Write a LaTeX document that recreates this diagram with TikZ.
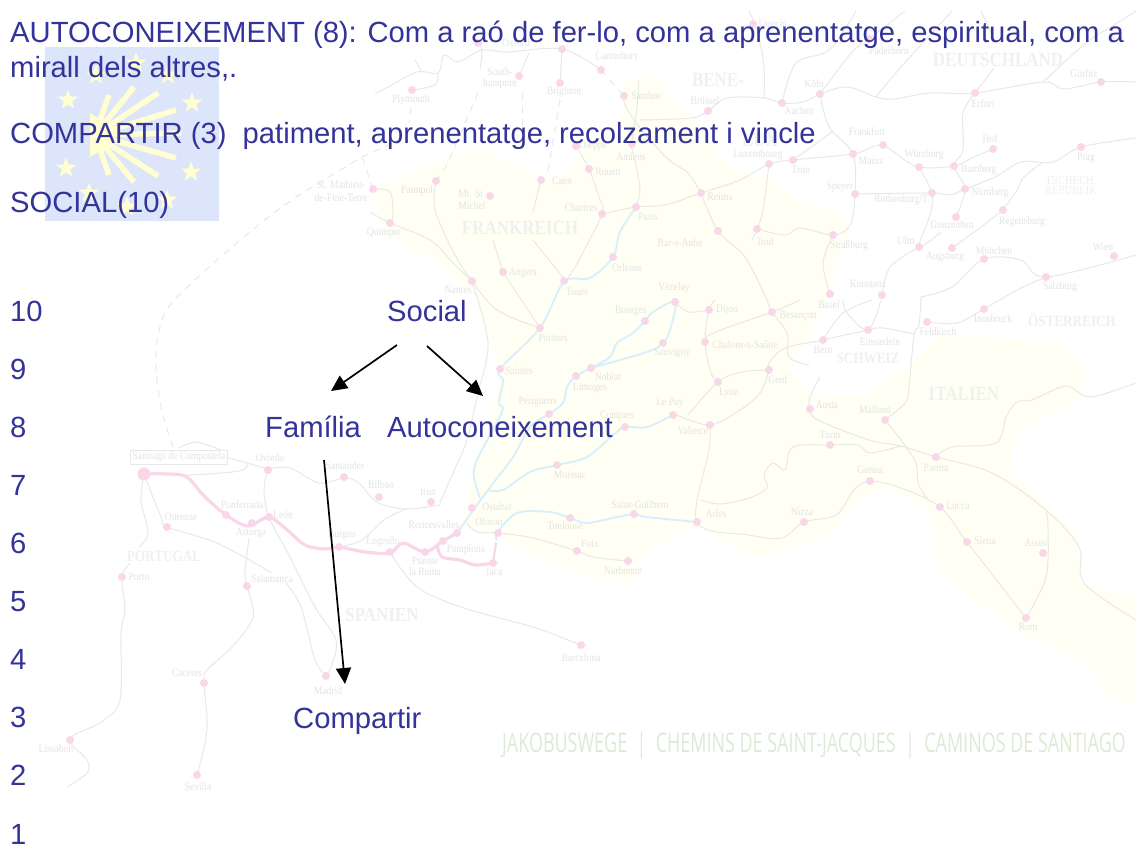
\documentclass[tikz,border=0pt]{standalone}
\usepackage{fontspec}
\setmainfont{Liberation Sans}
\newfontfamily\mapf[FakeStretch=0.85]{Liberation Serif}
\newfontfamily\condf[FakeStretch=0.665]{Open Sans}
\usetikzlibrary{arrows.meta,shapes.geometric}
\definecolor{txtblue}{HTML}{333399}
\definecolor{logobg}{HTML}{DDE5FB}
\definecolor{logoyl}{HTML}{FFFFD2}
\definecolor{landyl}{HTML}{FFFFF4}
\definecolor{railgr}{HTML}{E8E8E8}
\definecolor{dotpk}{HTML}{FAD7E8}
\definecolor{rivbl}{HTML}{D8F0FC}
\definecolor{labgr}{HTML}{E4E4E4}
\definecolor{ctrygr}{HTML}{F0F0F0}
\definecolor{jakgr}{HTML}{DDEBD6}
\tikzset{
  rail/.style={draw=railgr,line width=1pt,line join=round},
  dashrail/.style={draw=railgr,line width=1pt,dash pattern=on 7pt off 6pt},
  river/.style={draw=rivbl,line width=1.9pt,line join=round},
  pilgrim/.style={draw=dotpk,line width=3.2pt,line cap=round,line join=round},
  maplab/.style={text=labgr,inner sep=0pt,font=\mapf\fontsize{11.3}{12}\selectfont,align=center},
  ctry/.style={text=ctrygr,inner sep=0pt,font=\mapf\bfseries\fontsize{20}{20}\selectfont,align=center},
  ctrysmall/.style={text=ctrygr,inner sep=0pt,font=\mapf\bfseries\fontsize{15.5}{16}\selectfont,align=center},
  maintext/.style={text=txtblue,inner sep=0pt,anchor=base west,font=\fontsize{29.2}{32}\selectfont},
  logostar/.style={star,star points=5,star point ratio=2.4,fill=logoyl,inner sep=0pt,minimum size=21pt},
  arr/.style={draw=black,line width=1.7pt,-{Triangle[length=16pt,width=15pt]}},
}
\newcommand{\rt}[1]{\path[rail] plot[smooth,tension=0.55] coordinates {#1};}
\newcommand{\rv}[1]{\path[river] plot[smooth,tension=0.55] coordinates {#1};}
\begin{document}
\begin{tikzpicture}[x=1pt,y=-1pt]
\useasboundingbox (0,0) rectangle (1136,846);
\fill[white] (0,0) rectangle (1136,846);
% land
\fill[landyl] plot[smooth,tension=0.3] coordinates {(622,95)(626,80)(660,77)(668,100)(690,115)(730,165)(770,178)(800,200)(840,215)(850,228)(836,262)(830,296)(800,350)(790,368)(812,392)(860,395)(900,372)(940,335)(1000,338)(1060,345)(1085,370)(1078,400)(1017,433)(1014,473)(1075,533)(1082,583)(1136,600)(1136,700)(1104,693)(1090,667)(1021,633)(966,593)(938,563)(930,513)(890,490)(860,500)(830,535)(780,553)(745,555)(700,527)(640,555)(632,582)(600,578)(560,568)(505,540)(465,525)(470,480)(490,420)(500,370)(480,310)(470,290)(430,260)(385,232)(372,190)(430,165)(480,150)(530,172)(560,178)(582,150)(620,130)} -- cycle;
% logo
\fill[logobg] (45,47) rectangle (219,221);
\foreach \sx/\sy [count=\i] in {68/100,192/103,191/172,66/168,96/75,168/75,136/63,89/193,127/207,167/200}
  \node[logostar] (logostar\i) at (\sx,\sy) {};
\fill[logoyl] (90,113) -- (108,124) -- (108,146) -- (90,157) -- cycle;
\foreach \ex/\ey in {109/95,134/87,158/93,176/110,181/133,176/158,158/176,134/182,109/175}
  \draw[logoyl,line width=5.5pt] (95,135) -- (\ex,\ey);
% rivers
\rv{(636,207)(620,232)(613,257)(590,278)(564,282)(540,328)(500,369)(503,380)(499,403)(502,412)(477,460)(474,477)(480,498)}
\rv{(457,533)(488,490)(513,457)(530,427)(549,414)(563,403)(567,387)(576,376)(591,368)(610,357)(617,343)(633,333)(645,321)(653,312)(675,302)(670,330)(663,343)(647,352)(591,368)}
\rv{(488,490)(503,490)(530,472)(557,465)(587,457)(613,435)(625,427)(647,427)(673,415)}
\rv{(497,540)(497,533)(517,513)(550,512)(570,518)(587,523)(617,517)(634,514)(647,517)(697,522)}
% rails: Britain and north
\rt{(375,94)(388,87)(417,72)(438,73)(444,55)(458,62)(482,50)(507,52)(562,49)(601,70)}
\rt{(412,90)(435,85)(438,73)}\rt{(415,60)(422,72)}\rt{(519,76)(529,53)}\rt{(560,83)(562,49)}\rt{(478,43)(482,50)(480,70)}
\draw[dashrail] (478,93) -- (446,167) -- (436,181);
\draw[dashrail] (522,93) -- (522,130);
\draw[dashrail] (411,107) -- (409,123);
\draw[dashrail] (560,100) -- (547,177);
\draw[dashrail] (601,70) -- (624,96);
\draw[dashrail] (173,447) .. controls (150,385) and (150,325) .. (174,300) .. controls (210,265) and (260,220) .. (304,192) -- (362,157) -- (399,140);
\draw[dashrail] (373,189) -- (362,157);
% France west
\rt{(373,189)(390,192)(393,215)(390,223)}
\rt{(370,212)(390,223)(430,240)(455,265)(472,281)}
\rt{(436,181)(435,210)(455,255)(472,281)}
\rt{(472,282)(488,343)(477,397)(467,440)(453,473)(440,503)}
\rt{(472,281)(497,310)(540,328)}
\rt{(503,272)(493,240)}\rt{(503,272)(540,328)}
\rt{(541,180)(533,212)}\rt{(533,240)(565,280)}
\rt{(602,214)(636,207)(665,205)(701,193)(740,180)(769,164)(793,160)(853,154)(869,148)(883,145)(895,153)(919,167)(954,166)(974,157)(993,149)}
\rt{(576,146)(589,169)(600,200)(602,214)(579,260)(566,281)}
\rt{(636,207)(640,190)(635,160)(632,144)(637,107)(639,80)}
\rt{(701,193)(688,173)(669,160)(644,133)(626,107)(624,96)}
\rt{(701,193)(718,231)(745,257)(767,300)}
\rt{(769,164)(763,210)(757,229)(752,240)}
\rt{(757,229)(785,235)(800,228)(833,235)(850,225)(855,194)(853,154)(829,127)(820,94)}
\rt{(833,235)(823,263)(830,294)}
\rt{(793,160)(832,132)}
\rt{(640,120)(691,118)(708,111)(727,98)(764,98)(782,103)(803,102)(820,94)(847,87)(876,97)(894,99)(930,93)(975,93)(1043,82)(1064,89)(1101,82)(1136,82)}
\rt{(1043,82)(1086,43)(1111,27)(1136,11)}
\rt{(820,94)(838,70)(854,50)(869,39)(905,11)}
\rt{(782,103)(796,63)(829,50)(856,11)}
\rt{(876,97)(901,67)(952,11)}
\rt{(764,98)(764,67)(758,33)(749,11)}
\rt{(981,11)(996,43)}\rt{(975,93)(994,68)}
\rt{(975,93)(963,113)(963,150)(954,166)(965,189)(956,217)}
\rt{(855,194)(932,193)(950,195)(965,189)(995,177)(1021,162)(1053,162)(1081,147)(1136,138)}
\rt{(1003,210)(1017,190)(1024,177)(1043,162)}
\rt{(1003,210)(977,230)(952,248)}
\rt{(919,167)(932,193)(930,215)(919,247)(941,232)}
\rt{(919,247)(890,267)(882,295)}
\rt{(921,297)(952,287)(984,259)(1021,260)(1046,277)(1136,255)}
\rt{(921,297)(919,325)(914,335)(909,387)(905,403)(885,420)}
\rt{(1046,277)(1017,290)(984,309)(957,323)(927,322)}
% Alps, Italy
\rt{(769,370)(769,363)(785,348)(823,340)(868,330)(883,328)(914,334)}
\rt{(769,370)(760,393)(740,410)(710,425)(677,415)}
\rt{(769,370)(742,372)(718,382)(688,415)}
\rt{(718,382)(711,373)(705,342)(709,310)(715,300)}
\rt{(705,342)(713,333)(772,312)(800,300)}
\rt{(675,303)(689,312)(709,310)}
\rt{(767,300)(772,312)(787,333)(789,357)(809,365)}
\rt{(843,300)(847,313)(868,330)(881,300)}
\rt{(872,300)(843,313)(823,340)}
\rt{(820,377)(810,397)(810,409)(818,420)(869,440)(901,446)(936,457)(992,473)(1046,510)(1079,547)(1084,583)(1136,620)}
\rt{(701,500)(720,504)(749,498)(767,488)(764,475)(773,463)(785,470)(793,447)(830,445)(858,445)(870,453)(901,446)}
\rt{(885,420)(901,440)(916,463)(918,483)(928,500)}
\rt{(710,425)(709,450)(697,522)(749,535)(782,538)(804,522)(836,515)(854,490)(870,481)(901,488)(940,507)(967,542)(1026,618)}
\rt{(936,457)(952,447)(996,443)(1006,417)(1017,402)(1032,400)(1066,386)(1090,397)(1136,383)}
\rt{(1026,618)(1046,577)(1048,527)(1046,510)}
% Pyrenees, Spain
\rt{(467,523)(477,532)(498,533)(533,538)(577,551)(593,557)(628,561)}
\rt{(268,469)(290,468)(319,483)(344,478)(359,483)(377,502)(406,509)(440,505)}
\rt{(340,547)(362,540)(384,520)(406,509)}
\rt{(179,448)(196,442)(221,450)}
\rt{(226,457)(268,469)}
\rt{(144,474)(187,475)(239,471)(248,463)}
\rt{(268,469)(264,490)(269,517)(290,557)(315,607)(336,640)(331,667)(326,675)}
\rt{(144,474)(161,517)(167,527)(217,543)(272,573)}
\rt{(286,583)(301,607)(315,660)(326,675)}
\rt{(144,474)(141,500)(148,533)(139,547)}
\rt{(130,563)(122,577)(125,610)(121,633)(120,700)(101,722)(70,739)(87,760)(87,773)(67,787)}
\rt{(249,538)(245,573)(247,586)(253,617)(232,647)(207,670)(204,683)(207,730)(197,776)}
\rt{(390,552)(417,587)(464,608)(533,627)(568,640)(581,645)}
% pilgrim way
\path[pilgrim] plot[smooth,tension=0.5] coordinates {(144,474)(170,474)(187,477)(205,497)(226,515)(243,525)(252,525)(269,517)(285,528)(305,545)(325,549)(339,547)(365,552)(390,553)(403,543)(425,552)(443,541)(457,533)};
\path[pilgrim] plot[smooth,tension=0.5] coordinates {(437,545)(442,557)(460,560)(475,565)(493,563)};
\draw[pilgrim,line width=2pt] (493,563) -- (496,543);
% city dots
\foreach \dx/\dy in {268/470,344/477,379/497,431/502,226/515,252/523,269/517,339/547,390/552,425/552,443/541,457/533,493/563,498/533,472/508,167/527,122/577,247/586,326/676,204/683,197/775,70/740,581/645,412/90,478/43,519/76,560/83,562/49,601/70,373/189,436/181,490/196,541/180,390/223,472/281,503/272,564/281,540/328,500/369,549/414,625/427,557/465,576/376,591/368,645/321,663/343,675/302,673/415,570/518,634/514,577/551,628/561,697/522,753/24,624/96,708/111,782/103,820/94,869/39,975/93,1101/82,576/146,632/144,589/169,602/214,636/207,701/193,613/257,718/231,757/229,833/235,769/164,793/160,853/154,883/145,919/167,954/166,993/149,1081/147,965/189,932/193,855/194,956/217,1003/210,919/247,952/248,984/259,1046/277,1114/256,882/295,830/294,709/310,772/312,823/340,868/330,927/322,984/309,705/342,718/382,769/370,710/425,810/409,885/420,830/445,936/457,870/481,804/522,940/507,967/542,1043/553,1026/618}
  \fill[dotpk] (\dx,\dy) circle (4pt);
\fill[dotpk] (144,474) circle (6.5pt);
% city labels
\foreach \lx/\ly/\lt [count=\i] in {411/100/Plymouth,500/72/South-,500/84/hampton,564/92/Brighton,516/43/Oxford,617/57/Canterbury,646/96/Sambre,593/146/Dieppe,631/157/Amiens,608/172/Rouen,581/208/Chartres,648/217/Paris,720/197/Reims,627/268/Orléans,680/243/Bar-s-Aube,765/242/Toul,849/246/Straßburg,758/155/Luxembourg,801/170/Trier,871/161/Mainz,867/132/Frankfurt,924/155/Würzburg,979/170/Bamberg,990/139/Hof,1086/158/Prag,990/193/Nürnberg,{902}/200/{Rothenburg/T.},840/187/Speyer,952/225/Gunzenhsn,1022/222/Regensburg,906/241/Ulm,945/257/Augsburg,994/251/München,1103/247/Wien,1060/287/Salzburg,868/284/Konstanz,829/305/Basel,798/316/Besançon,727/310/Dijon,631/311/Bourges,672/353/Sauvigny,674/288/Vézelay,608/377/Noblat,590/388/Limoges,670/403/Le Puy,617/416/Conques,693/431/Valence,729/393/Lyon,778/380/Genf,823/350/Bern,745/345/Chalons-s-Saône,880/342/Einsiedeln,938/332/Feldkirch,993/319/Innsbruck,827/405/Aosta,875/410/Mailand,830/435/Turin,936/468/Parma,870/470/Genua,802/512/Nizza,958/506/Lucca,985/541/Siena,1036/543/Assisi,1028/627/Rom,716/514/Arles,640/505/Saint-Guilhem,590/544/Foix,623/571/Narbonne,565/526/Toulouse,570/475/Moissac,538/402/Périgueux,553/338/Poitiers,519/371/Saintes,458/290/Nantes,577/292/Tours,523/273/Angers,417/191/Paimpol,472/194/Mt. St.,472/206/Michel,341/185/St. Mathieu-,341/198/de-Fine-Terre,562/181/Caen,384/233/Quimper,773/24/Utrecht,889/51/Paderborn,1084/74/Görlitz,705/101/Brüssel,799/111/Aachen,814/84/Köln,983/104/Erfurt,270/458/Oviedo,345/466/Santander,381/485/Bilbao,428/492/Irun,242/505/Ponferrada,251/533/Astorga,283/515/León,342/535/Burgos,383/542/Logroño,434/525/Roncesvalles,425/561/Puente,425/572/la Reina,466/550/Pamplona,494/572/Jaca,489/522/Oloron,497/507/Ostabat,181/517/Ourense,139/577/Porto,272/579/Salamanca,328/691/Madrid,187/673/Caceres,198/787/Sevilla,56/749/Lissabon,581/658/Barcelona}
  \node[maplab] (citylab\i) at (\lx,\ly) {\lt};
\node[maplab,draw=railgr,line width=0.7pt,inner sep=2pt,font=\mapf\fontsize{11.2}{12}\selectfont] (santiago) at (179,457) {Santiago de Compostela};
% country labels
\foreach \cx/\cy/\ct [count=\i] in {520/228/FRANKREICH,718/80/BENE-,760/140/LUX,998/60/DEUTSCHLAND,964/394/ITALIEN,382/615/SPANIEN}
  \node[ctry] (country\i) at (\cx,\cy) {\ct};
\foreach \cx/\cy/\ct [count=\i] in {868/358/SCHWEIZ,1072/320/ÖSTERREICH,164/556/PORTUGAL}
  \node[ctrysmall] (countrysm\i) at (\cx,\cy) {\ct};
\node[maplab,text=ctrygr,font=\mapf\fontsize{12.5}{10}\selectfont] (tsch) at (1071,185) {TSCHECH.\\REPUBLIK};
\node[text=jakgr,inner sep=0pt,anchor=west,font=\condf\fontsize{27}{28}\selectfont] (jakobus) at (502,746) {JAKOBUSWEGE\ \ |\ \ CHEMINS DE SAINT-JACQUES\ \ |\ \ CAMINOS DE SANTIAGO};
% main text
\node[maintext] (l1) at (10,42) {AUTOCONEIXEMENT (8): Com a raó de fer-lo, com a aprenentatge, espiritual, com a};
\node[maintext] (l2) at (10,77) {mirall dels altres,.};
\node[maintext] (l3) at (10,143) {COMPARTIR (3)\ \ patiment, aprenentatge, recolzament i vincle};
\node[maintext] (l4) at (10,212) {SOCIAL(10)};
\foreach \n/\ny in {10/321,9/379,8/437,7/495,6/553,5/611,4/669,3/727,2/785,1/844}
  \node[maintext] (num\n) at (10,\ny) {\n};
\node[maintext] (social) at (387,321) {Social};
\node[maintext] (familia) at (265,437) {Família};
\node[maintext] (autoc) at (387,437) {Autoconeixement};
\node[maintext] (compartir) at (293,728) {Compartir};
% connectors
\draw[arr] ([shift={(10pt,-24pt)}]social.base west) -- ([shift={(66pt,46pt)}]familia.base west);
\draw[arr] ([shift={(40pt,-25pt)}]social.base west) -- ([shift={(96pt,41pt)}]autoc.base west);
\draw[arr] ([shift={(59pt,-23pt)}]familia.base west) -- ([shift={(52pt,44pt)}]compartir.base west);
\end{tikzpicture}
\end{document}
